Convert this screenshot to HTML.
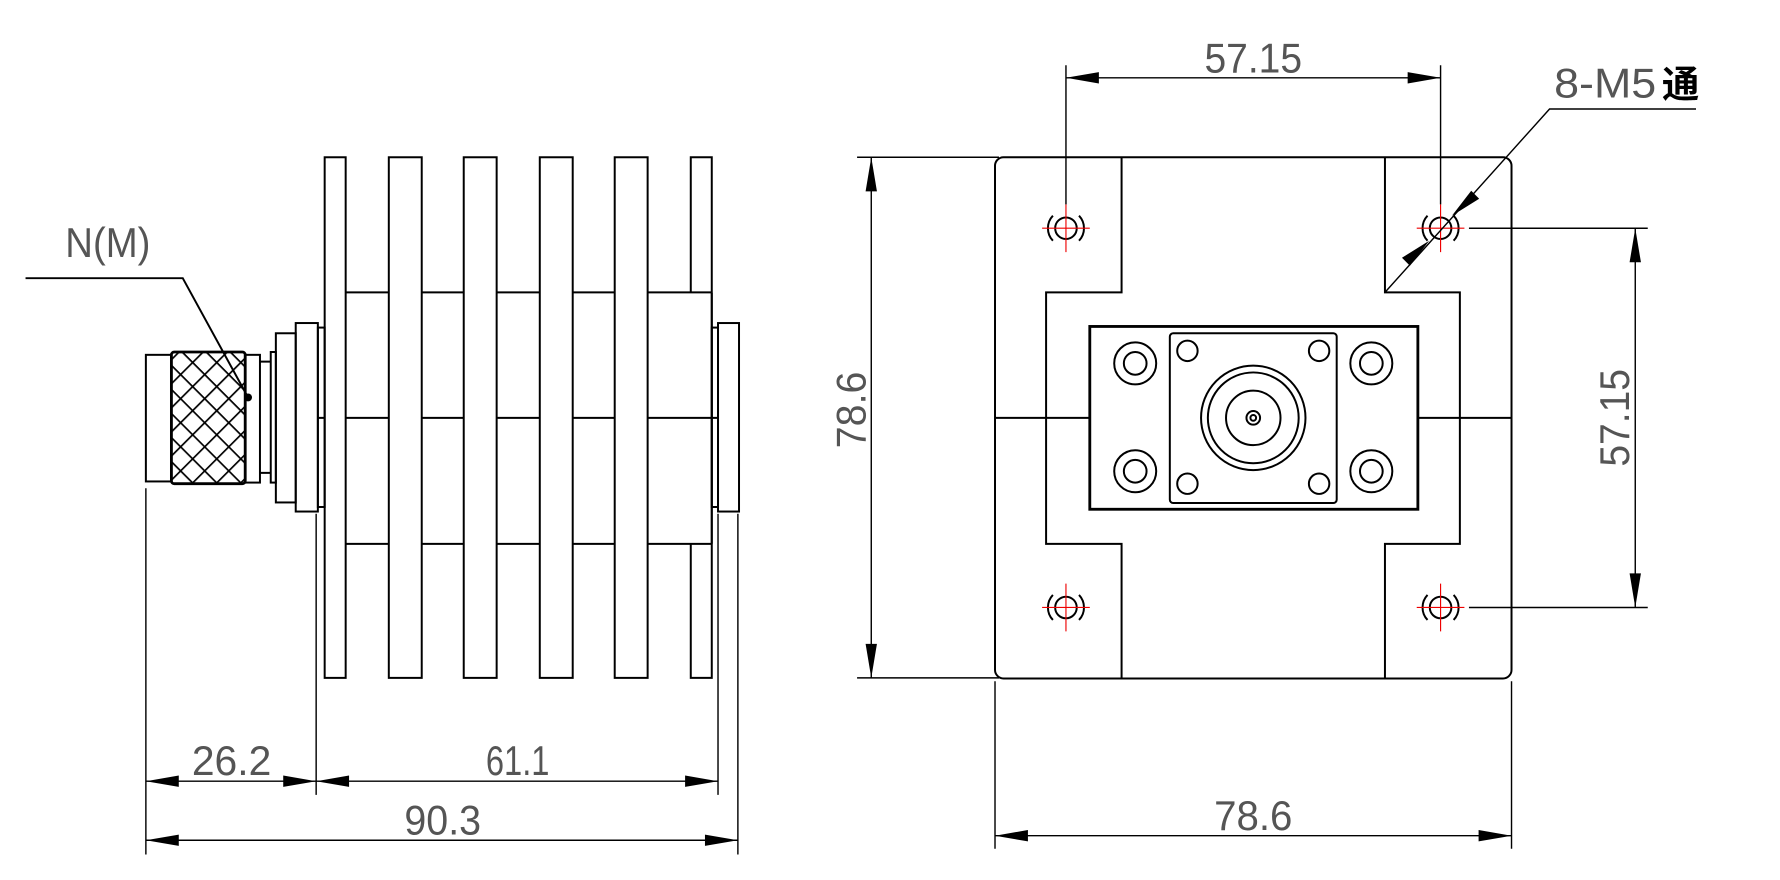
<!DOCTYPE html>
<html><head><meta charset="utf-8"><style>html,body{margin:0;padding:0;background:#fff}svg{display:block}</style></head>
<body>
<svg width="1780" height="880" viewBox="0 0 3136 1550" preserveAspectRatio="none" xmlns="http://www.w3.org/2000/svg">
<defs>
<pattern id="kn" width="30" height="30" patternUnits="userSpaceOnUse" patternTransform="rotate(45)">
<rect width="30" height="30" fill="#fff"/>
<line x1="0" y1="0" x2="30" y2="0" stroke="#000" stroke-width="6"/>
<line x1="0" y1="0" x2="0" y2="30" stroke="#000" stroke-width="6"/>
</pattern>
</defs>
<g fill="none" stroke="#000" stroke-width="3.5">
<line x1="609" y1="515" x2="1254" y2="515"/>
<line x1="609" y1="958" x2="1254" y2="958"/>
<line x1="1254" y1="515" x2="1254" y2="958"/>
<line x1="560" y1="736" x2="1265" y2="736"/>
<rect x="572" y="277" width="37" height="917" fill="#fff"/>
<rect x="685" y="277" width="58" height="917" fill="#fff"/>
<rect x="817" y="277" width="58" height="917" fill="#fff"/>
<rect x="951" y="277" width="58" height="917" fill="#fff"/>
<rect x="1083" y="277" width="58" height="917" fill="#fff"/>
<path d="M1217 515 V277 H1254 V515 M1217 958 V1194 H1254 V958"/>
<line x1="1254" y1="515" x2="1254" y2="958"/>
<rect x="560" y="577" width="12" height="316"/>
<rect x="521" y="569" width="39" height="332"/>
<rect x="486" y="587" width="35" height="298"/>
<rect x="477" y="620" width="9" height="230"/>
<path d="M458 637 H477 M458 833 H477"/>
<rect x="432" y="625" width="26" height="225"/>
<rect x="302" y="620" width="130" height="232" rx="5" fill="url(#kn)" stroke-width="5"/>
<rect x="257" y="625" width="45" height="223"/>
<rect x="1254" y="577" width="11" height="316"/>
<rect x="1265" y="569" width="37" height="332"/>
<polyline points="45,490 322,490 437,700"/>
<line x1="257" y1="860" x2="257" y2="1505" stroke-width="2.5"/>
<line x1="557" y1="905" x2="557" y2="1400" stroke-width="2.5"/>
<line x1="1265" y1="905" x2="1265" y2="1400" stroke-width="2.5"/>
<line x1="1300" y1="905" x2="1300" y2="1505" stroke-width="2.5"/>
<line x1="257" y1="1376" x2="1265" y2="1376" stroke-width="2.5"/>
<line x1="257" y1="1480" x2="1300" y2="1480" stroke-width="2.5"/>
<line x1="1535" y1="277" x2="1535" y2="1194" stroke-width="2.5"/>
<line x1="1510" y1="277" x2="1760" y2="277" stroke-width="2.5"/>
<line x1="1510" y1="1194" x2="1760" y2="1194" stroke-width="2.5"/>

<g transform="translate(1568,0)">
<rect x="185" y="277" width="910" height="918" rx="15"/>
<polyline points="408,277 408,515 275,515 275,958 408,958 408,1195"/>
<polyline points="872,277 872,515 1004,515 1004,958 872,958 872,1195"/>
<line x1="185" y1="736" x2="352" y2="736"/>
<line x1="930" y1="736" x2="1095" y2="736"/>
<rect x="352" y="575" width="578" height="322" stroke-width="5"/>
<rect x="493" y="587" width="294" height="299" rx="6"/>
<g>
<circle cx="432" cy="640" r="37"/><circle cx="432" cy="640" r="20"/>
<circle cx="432" cy="830" r="37"/><circle cx="432" cy="830" r="20"/>
<circle cx="848" cy="640" r="37"/><circle cx="848" cy="640" r="20"/>
<circle cx="848" cy="830" r="37"/><circle cx="848" cy="830" r="20"/>
<circle cx="524" cy="618" r="18"/><circle cx="756" cy="618" r="18"/>
<circle cx="524" cy="852" r="18"/><circle cx="756" cy="852" r="18"/>
<circle cx="640" cy="736" r="92"/><circle cx="640" cy="736" r="80"/>
<circle cx="640" cy="736" r="48"/><circle cx="640" cy="736" r="12"/><circle cx="640" cy="736" r="5"/>
</g>
<g>
<circle cx="310" cy="402" r="19"/><path d="M287 380 A32 32 0 0 0 287 424 M333 380 A32 32 0 0 1 333 424"/>
<circle cx="970" cy="402" r="19"/><path d="M947 380 A32 32 0 0 0 947 424 M993 380 A32 32 0 0 1 993 424"/>
<circle cx="310" cy="1070" r="19"/><path d="M287 1048 A32 32 0 0 0 287 1092 M333 1048 A32 32 0 0 1 333 1092"/>
<circle cx="970" cy="1070" r="19"/><path d="M947 1048 A32 32 0 0 0 947 1092 M993 1048 A32 32 0 0 1 993 1092"/>
</g>
<g stroke="#e00" stroke-width="2">
<path d="M268 402 H352 M310 360 V444"/>
<path d="M928 402 H1012 M970 360 V444"/>
<path d="M268 1070 H352 M310 1028 V1112"/>
<path d="M928 1070 H1012 M970 1028 V1112"/>
</g>
<g stroke-width="2.5">
<line x1="310" y1="115" x2="310" y2="360"/>
<line x1="970" y1="115" x2="970" y2="360"/>
<line x1="310" y1="137" x2="970" y2="137"/>
<line x1="1020" y1="402" x2="1335" y2="402"/>
<line x1="1020" y1="1070" x2="1335" y2="1070"/>
<line x1="1313" y1="402" x2="1313" y2="1070"/>
<line x1="185" y1="1200" x2="185" y2="1495"/>
<line x1="1095" y1="1200" x2="1095" y2="1495"/>
<line x1="185" y1="1472" x2="1095" y2="1472"/>
<polyline points="1420,192 1162,192 872,515"/>
</g>
</g>
</g>
<g fill="#000">
<circle cx="437" cy="700" r="7"/>
<polygon points="257,1376 315,1366 315,1386"/>
<polygon points="557,1376 499,1366 499,1386"/>
<polygon points="557,1376 615,1366 615,1386"/>
<polygon points="1265,1376 1207,1366 1207,1386"/>
<polygon points="257,1480 315,1470 315,1490"/>
<polygon points="1300,1480 1242,1470 1242,1490"/>
<polygon points="1535,277 1525,337 1545,337"/>
<polygon points="1535,1194 1525,1134 1545,1134"/>
<g transform="translate(1568,0)">
<polygon points="310,137 368,127 368,147"/>
<polygon points="970,137 912,127 912,147"/>
<polygon points="1313,402 1303,462 1323,462"/>
<polygon points="1313,1070 1303,1010 1323,1010"/>
<polygon points="185,1472 243,1462 243,1482"/>
<polygon points="1095,1472 1037,1462 1037,1482"/>
<polygon points="990,380 1024,336 1038,350"/>
<polygon points="950,424 916,468 902,454"/>
</g>
</g>
<g font-family="Liberation Sans, sans-serif" font-size="74" fill="#555" text-anchor="middle">
<text x="190" y="453" textLength="150" lengthAdjust="spacingAndGlyphs">N(M)</text>
<text x="408" y="1365" textLength="140" lengthAdjust="spacingAndGlyphs">26.2</text>
<text x="912" y="1365" textLength="112" lengthAdjust="spacingAndGlyphs">61.1</text>
<text x="780" y="1470" textLength="135" lengthAdjust="spacingAndGlyphs">90.3</text>
<text transform="translate(1525,722) rotate(-90)" textLength="135" lengthAdjust="spacingAndGlyphs">78.6</text>
<text x="2208" y="128" textLength="172" lengthAdjust="spacingAndGlyphs">57.15</text>
<text transform="translate(2870,736) rotate(-90)" textLength="172" lengthAdjust="spacingAndGlyphs">57.15</text>
<text x="2208" y="1462" textLength="138" lengthAdjust="spacingAndGlyphs">78.6</text>
<text x="2738" y="172" text-anchor="start" textLength="180" lengthAdjust="spacingAndGlyphs">8-M5</text>
<text x="2928" y="172" text-anchor="start" font-family="Liberation Sans, Noto Sans CJK SC, sans-serif" font-weight="bold" fill="#000" font-size="66">通</text>
</g>
</svg>
</body></html>
